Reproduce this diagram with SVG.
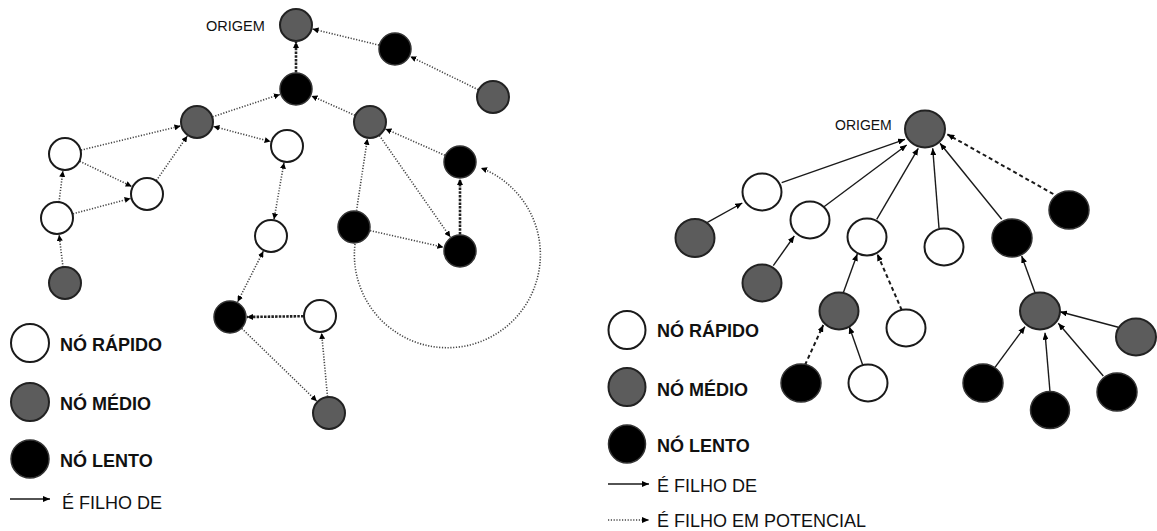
<svg xmlns="http://www.w3.org/2000/svg" width="1157" height="531" viewBox="0 0 1157 531">
<style>
.fast{fill:#fff;stroke:#1a1a1a;stroke-width:2}
.mid{fill:#5c5c5c;stroke:#222;stroke-width:2}
.slow{fill:#000;stroke:#333;stroke-width:1.5}
.dot{fill:none;stroke:#444;stroke-width:1.6;stroke-dasharray:1.2 1.6}
.dotb{fill:none;stroke:#222;stroke-width:2.6;stroke-dasharray:2.5 1.2}
.sol{fill:none;stroke:#1a1a1a;stroke-width:1.4}
.dash{fill:none;stroke:#1a1a1a;stroke-width:2;stroke-dasharray:4 3}
.lbl{font-family:"Liberation Sans",Arial,sans-serif;fill:#111}
.leg{font-family:"Liberation Sans",Arial,sans-serif;font-size:18px;fill:#111}
.legb{font-family:"Liberation Sans",Arial,sans-serif;font-size:18px;font-weight:bold;fill:#111}
</style>
<defs>
<marker id="ah" viewBox="0 0 6 6" refX="6" refY="3" markerWidth="6" markerHeight="6" markerUnits="userSpaceOnUse" orient="auto-start-reverse"><path d="M0,0 L6,3 L0,6 z" fill="#000"/></marker>
<marker id="ah2" viewBox="0 0 7 6" refX="7" refY="3" markerWidth="7" markerHeight="6" markerUnits="userSpaceOnUse" orient="auto"><path d="M0,0 L7,3 L0,6 z" fill="#000"/></marker>
</defs>
<rect width="1157" height="531" fill="#fff"/>

<g id="connectors">
<!-- left graph -->
<line class="dotb" x1="296" y1="72.5" x2="296" y2="42" marker-end="url(#ah)"/>
<line class="dot" x1="379" y1="45.1" x2="312.5" y2="29" marker-end="url(#ah)"/>
<line class="dot" x1="478.2" y1="89.7" x2="410.3" y2="56.5" marker-end="url(#ah)"/>
<line class="dot" x1="212.6" y1="116.8" x2="279.9" y2="94.4" marker-end="url(#ah)"/>
<line class="dot" x1="354.9" y1="115.3" x2="311.5" y2="95.9" marker-end="url(#ah)"/>
<line class="dot" x1="213.4" y1="126.4" x2="270.6" y2="141.6" marker-start="url(#ah)" marker-end="url(#ah)"/>
<line class="dot" x1="81" y1="150.1" x2="180.5" y2="126" marker-end="url(#ah)"/>
<line class="dot" x1="156.4" y1="180.5" x2="187.3" y2="136" marker-end="url(#ah)"/>
<line class="dot" x1="79.8" y1="161.2" x2="131.7" y2="186.5" marker-end="url(#ah)"/>
<line class="dot" x1="73" y1="213.8" x2="130.6" y2="198.4" marker-end="url(#ah)"/>
<line class="dot" x1="59" y1="202.1" x2="62.9" y2="170.9" marker-end="url(#ah)"/>
<line class="dot" x1="63" y1="267.1" x2="59.1" y2="234.9" marker-end="url(#ah)"/>
<line class="dot" x1="284" y1="162.7" x2="274" y2="219.3" marker-start="url(#ah)" marker-end="url(#ah)"/>
<line class="dot" x1="263.3" y1="251.2" x2="237.7" y2="301.8" marker-start="url(#ah)" marker-end="url(#ah)"/>
<line class="dotb" x1="303.5" y1="316.2" x2="247" y2="317" marker-end="url(#ah)"/>
<line class="dot" x1="327.5" y1="396.6" x2="321.6" y2="333" marker-end="url(#ah)"/>
<line class="dot" x1="241.8" y1="328.5" x2="316.8" y2="401.2" marker-end="url(#ah)"/>
<line class="dot" x1="444.9" y1="155.3" x2="385.5" y2="128.9" marker-end="url(#ah)"/>
<line class="dot" x1="356.5" y1="210.7" x2="367.4" y2="138.8" marker-end="url(#ah)"/>
<line class="dot" x1="379.4" y1="135.5" x2="450.3" y2="237.1" marker-end="url(#ah)"/>
<line class="dot" x1="370.1" y1="230.6" x2="443.4" y2="247.2" marker-end="url(#ah)"/>
<line class="dotb" x1="460" y1="234.5" x2="460" y2="179" marker-end="url(#ah)"/>
<path class="dot" d="M355,244 A93,93 0 1 0 481,168" marker-end="url(#ah)"/>
<!-- right graph -->
<line class="sol" x1="781.7" y1="182.7" x2="905" y2="139.3" marker-end="url(#ah2)"/>
<line class="sol" x1="824" y1="206.7" x2="906.7" y2="145" marker-end="url(#ah2)"/>
<line class="sol" x1="876.7" y1="219.3" x2="918.3" y2="148.3" marker-end="url(#ah2)"/>
<line class="sol" x1="939" y1="228" x2="932.7" y2="148.3" marker-end="url(#ah2)"/>
<line class="sol" x1="1001.7" y1="219.3" x2="940" y2="143.3" marker-end="url(#ah2)"/>
<line class="dash" x1="1053.3" y1="194" x2="947.3" y2="134.3" marker-end="url(#ah2)"/>
<line class="sol" x1="707" y1="222.7" x2="742.3" y2="203" marker-end="url(#ah2)"/>
<line class="sol" x1="773.3" y1="265.7" x2="794.3" y2="236" marker-end="url(#ah2)"/>
<line class="sol" x1="843.3" y1="292.7" x2="857.3" y2="254" marker-end="url(#ah2)"/>
<line class="dash" x1="901.7" y1="310" x2="877.3" y2="254" marker-end="url(#ah2)"/>
<line class="dash" x1="805" y1="365" x2="823.3" y2="325" marker-end="url(#ah2)"/>
<line class="sol" x1="862.7" y1="365" x2="849.3" y2="326.7" marker-end="url(#ah2)"/>
<line class="sol" x1="1035" y1="292.7" x2="1021.7" y2="256" marker-end="url(#ah2)"/>
<line class="sol" x1="1118.3" y1="327.3" x2="1060" y2="311.7" marker-end="url(#ah2)"/>
<line class="sol" x1="995" y1="367.3" x2="1025" y2="326.7" marker-end="url(#ah2)"/>
<line class="sol" x1="1050" y1="391.7" x2="1045" y2="332.7" marker-end="url(#ah2)"/>
<line class="sol" x1="1103.3" y1="376" x2="1058.3" y2="323.3" marker-end="url(#ah2)"/>
</g>

<!-- left graph nodes -->
<g id="L-origem"><circle class="mid" cx="296" cy="25" r="16"/><text class="lbl" x="206" y="31" font-size="14.5">ORIGEM</text></g>
<g id="L-B"><circle class="slow" cx="296" cy="89" r="16"/></g>
<g id="L-C"><circle class="slow" cx="395" cy="49" r="16"/></g>
<g id="L-D"><circle class="mid" cx="493" cy="97" r="16"/></g>
<g id="L-E"><circle class="mid" cx="197" cy="122" r="16"/></g>
<g id="L-F"><circle class="mid" cx="370" cy="122" r="16"/></g>
<g id="L-G"><circle class="fast" cx="287" cy="146" r="16"/></g>
<g id="L-H"><circle class="slow" cx="460" cy="162" r="16"/></g>
<g id="L-I"><circle class="fast" cx="65" cy="154" r="16"/></g>
<g id="L-J"><circle class="fast" cx="147" cy="194" r="16"/></g>
<g id="L-K"><circle class="fast" cx="57" cy="218" r="16"/></g>
<g id="L-L"><circle class="mid" cx="65" cy="283" r="16"/></g>
<g id="L-M"><circle class="slow" cx="354" cy="227" r="16"/></g>
<g id="L-N"><circle class="slow" cx="460" cy="251" r="16"/></g>
<g id="L-O"><circle class="fast" cx="271" cy="236" r="16"/></g>
<g id="L-P"><circle class="slow" cx="230" cy="317" r="16"/></g>
<g id="L-Q"><circle class="fast" cx="320" cy="316" r="16"/></g>
<g id="L-R"><circle class="mid" cx="329" cy="413" r="16"/></g>

<!-- left legend -->
<g id="L-legend">
<ellipse class="fast" cx="30" cy="343" rx="19" ry="19"/><text class="legb" x="60" y="351">NÓ RÁPIDO</text>
<ellipse class="mid" cx="30" cy="402" rx="19" ry="19"/><text class="legb" x="60" y="410">NÓ MÉDIO</text>
<ellipse class="slow" cx="30" cy="459" rx="19" ry="19"/><text class="legb" x="60" y="467">NÓ LENTO</text>
<line class="sol" x1="10" y1="499" x2="50" y2="499" marker-end="url(#ah2)"/><text class="leg" x="62" y="509">É FILHO DE</text>
</g>

<!-- right graph nodes -->
<g id="R-origem"><ellipse class="mid" cx="925" cy="129" rx="20" ry="18.5"/><text class="lbl" x="835" y="130" font-size="14">ORIGEM</text></g>
<g id="R-W1"><ellipse class="fast" cx="762" cy="192" rx="19.5" ry="18.5"/></g>
<g id="R-W2"><ellipse class="fast" cx="810" cy="220" rx="19.5" ry="18.5"/></g>
<g id="R-W3"><ellipse class="fast" cx="867" cy="237" rx="19.5" ry="18.5"/></g>
<g id="R-W4"><ellipse class="fast" cx="944" cy="247" rx="19.5" ry="18.5"/></g>
<g id="R-B1"><ellipse class="slow" cx="1012" cy="238" rx="20" ry="19"/></g>
<g id="R-B2"><ellipse class="slow" cx="1069" cy="210" rx="20" ry="19"/></g>
<g id="R-G1"><ellipse class="mid" cx="695" cy="238" rx="19.5" ry="19"/></g>
<g id="R-G2"><ellipse class="mid" cx="762" cy="283" rx="19.5" ry="18.5"/></g>
<g id="R-G3"><ellipse class="mid" cx="839" cy="311" rx="19.5" ry="18.5"/></g>
<g id="R-W5"><ellipse class="fast" cx="906" cy="328" rx="19.5" ry="18.5"/></g>
<g id="R-B3"><ellipse class="slow" cx="801" cy="383" rx="20" ry="19"/></g>
<g id="R-W6"><ellipse class="fast" cx="868" cy="383" rx="19.5" ry="18.5"/></g>
<g id="R-G4"><ellipse class="mid" cx="1040" cy="311" rx="20" ry="18.5"/></g>
<g id="R-G5"><ellipse class="mid" cx="1136" cy="337" rx="20" ry="18.5"/></g>
<g id="R-B4"><ellipse class="slow" cx="983" cy="383" rx="20" ry="19"/></g>
<g id="R-B5"><ellipse class="slow" cx="1050" cy="410" rx="19.5" ry="18.5"/></g>
<g id="R-B6"><ellipse class="slow" cx="1117" cy="392" rx="20" ry="19"/></g>

<!-- right legend -->
<g id="R-legend">
<ellipse class="fast" cx="627" cy="330" rx="18.5" ry="19"/><text class="legb" x="657" y="337">NÓ RÁPIDO</text>
<ellipse class="mid" cx="627" cy="387" rx="18.5" ry="19"/><text class="legb" x="657" y="396">NÓ MÉDIO</text>
<ellipse class="slow" cx="627" cy="444" rx="18.5" ry="19"/><text class="legb" x="657" y="452">NÓ LENTO</text>
<line class="sol" x1="608" y1="484" x2="649" y2="484" marker-end="url(#ah2)"/><text class="leg" x="657" y="492">É FILHO DE</text>
<line class="dot" x1="608" y1="520" x2="649" y2="520" marker-end="url(#ah2)"/><text class="leg" x="657" y="527">É FILHO EM POTENCIAL</text>
</g>
</svg>
